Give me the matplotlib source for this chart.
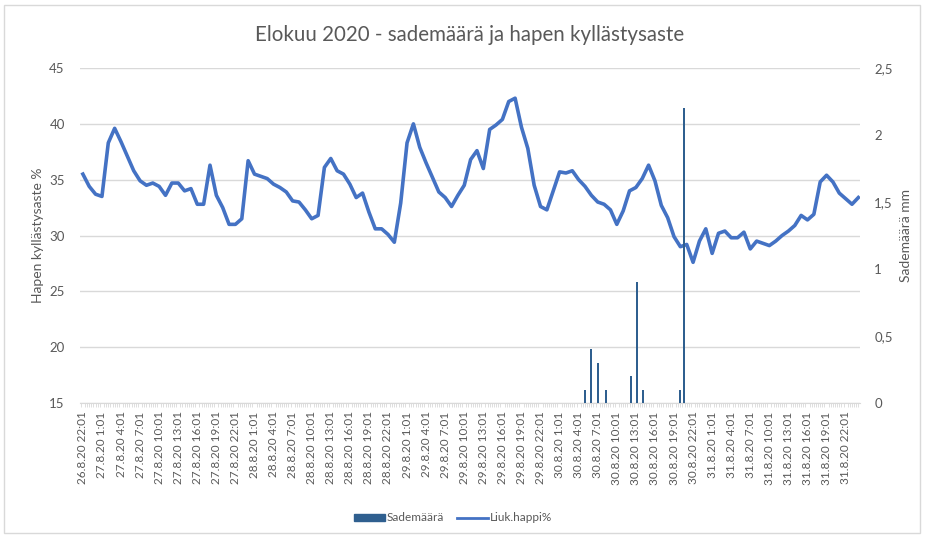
import matplotlib

matplotlib.use("Agg")
import matplotlib.pyplot as plt
import numpy as np
import pandas as pd
from matplotlib.lines import Line2D
from matplotlib.patches import Patch, Rectangle
from matplotlib.ticker import FuncFormatter, MultipleLocator

plt.rcParams["font.family"] = ["Lato", "DejaVu Sans"]

# hourly dissolved-oxygen saturation (%), starting 26.8.20 22:01
START = "2020-08-26 22:01"
oxygen = [
    35.5, 34.4, 33.7, 33.5, 38.3, 39.6, 38.4, 37.1, 35.8, 34.9,
    34.5, 34.7, 34.4, 33.6, 34.7, 34.7, 34.0, 34.2, 32.8, 32.8,
    36.3, 33.6, 32.5, 31.0, 31.0, 31.5, 36.7, 35.5, 35.3, 35.1,
    34.6, 34.3, 33.9, 33.1, 33.0, 32.3, 31.5, 31.8, 36.1, 36.9,
    35.8, 35.5, 34.6, 33.4, 33.8, 32.1, 30.6, 30.6, 30.1, 29.4,
    32.9, 38.3, 40.0, 37.9, 36.5, 35.2, 33.9, 33.4, 32.6, 33.6,
    34.5, 36.8, 37.6, 36.0, 39.5, 39.9, 40.4, 42.0, 42.3, 39.7,
    37.8, 34.5, 32.6, 32.3, 34.0, 35.7, 35.6, 35.8, 35.0, 34.4,
    33.6, 33.0, 32.8, 32.3, 31.0, 32.2, 34.0, 34.3, 35.1, 36.3,
    34.9, 32.7, 31.6, 29.9, 29.0, 29.2, 27.6, 29.5, 30.6, 28.4,
    30.2, 30.4, 29.8, 29.8, 30.3, 28.8, 29.5, 29.3, 29.1, 29.5,
    30.0, 30.4, 30.9, 31.8, 31.4, 31.9, 34.8, 35.4, 34.8, 33.8,
    33.3, 32.8, 33.4,
]

# rainfall events: hours after start, mm
rain_hours = [79.0, 80.0, 81.1, 82.3, 86.2, 87.2, 88.1, 94.0, 94.6]
rain_mm = [0.1, 0.4, 0.3, 0.1, 0.2, 0.9, 0.1, 0.1, 2.2]

LABEL_STEP_H = 3
N_LABELS = 41

LINE_COLOR = "#4472C4"
BAR_COLOR = "#2F5F8F"
TEXT = "#595959"
GRID = "#D9D9D9"

hours = np.arange(len(oxygen))
label_times = pd.date_range(START, periods=N_LABELS, freq=f"{LABEL_STEP_H}h")
labels = [f"{t.day}.{t.month}.{t:%y} {t.hour}:{t:%M}" for t in label_times]
label_pos = np.arange(N_LABELS) * LABEL_STEP_H

fig = plt.figure(figsize=(9.25, 5.4), dpi=100)
fig.patches.append(Rectangle((0.004, 0.013), 0.991, 0.978, transform=fig.transFigure,
                             fill=False, edgecolor=GRID, linewidth=1))
ax = fig.add_axes([0.0865, 0.2537, 0.8435, 0.6203])
ax2 = ax.twinx()

ax.plot(hours, oxygen, color=LINE_COLOR, linewidth=2.6, solid_joinstyle="round")
ax2.bar(rain_hours, rain_mm, width=0.3, color=BAR_COLOR, linewidth=0)

ax.set_xlim(-0.45, 122.3)
ax.set_ylim(15, 45)
ax.yaxis.set_major_locator(MultipleLocator(5))
ax2.set_ylim(0, 2.5)
ax2.yaxis.set_major_locator(MultipleLocator(0.5))
ax2.yaxis.set_major_formatter(FuncFormatter(lambda v, _: f"{v:g}".replace(".", ",")))

ax.grid(axis="y", color=GRID, linewidth=1)
ax.set_axisbelow(True)
for a in (ax, ax2):
    for side in ("top", "left", "right"):
        a.spines[side].set_visible(False)
    a.spines["bottom"].set_color(GRID)
ax2.spines["bottom"].set_visible(False)

ax.set_xticks(label_pos)
ax.set_xticklabels(labels, rotation=90, fontsize=8.5, color=TEXT)
ax.tick_params(axis="x", length=0, pad=6)
ax.xaxis.set_minor_locator(MultipleLocator(1 / 3))
ax.tick_params(axis="x", which="minor", length=3, color=GRID)
ax.tick_params(axis="y", length=0, pad=11, labelsize=9.5, labelcolor=TEXT)
ax2.tick_params(axis="y", length=0, pad=10, labelsize=9.5, labelcolor=TEXT)

ax.set_ylabel("Hapen kyllästysaste %", fontsize=10, color=TEXT, labelpad=4)
ax2.set_ylabel("Sademäärä mm", fontsize=10, color=TEXT, rotation=90, labelpad=5)

fig.text(0.508, 0.935, "Elokuu 2020 - sademäärä ja hapen kyllästysaste",
         ha="center", va="center", fontsize=14.8, color=TEXT)

handles = [Patch(color=BAR_COLOR), Line2D([], [], color=LINE_COLOR, linewidth=2)]
fig.legend(handles, ["Sademäärä", "Liuk.happi%"], loc="center", ncol=2,
           bbox_to_anchor=(0.49, 0.041), frameon=False, fontsize=8.5,
           labelcolor=TEXT, handlelength=2.6, handleheight=0.5,
           handletextpad=0.15, columnspacing=1.1)

fig.savefig("out.png", dpi=100)
